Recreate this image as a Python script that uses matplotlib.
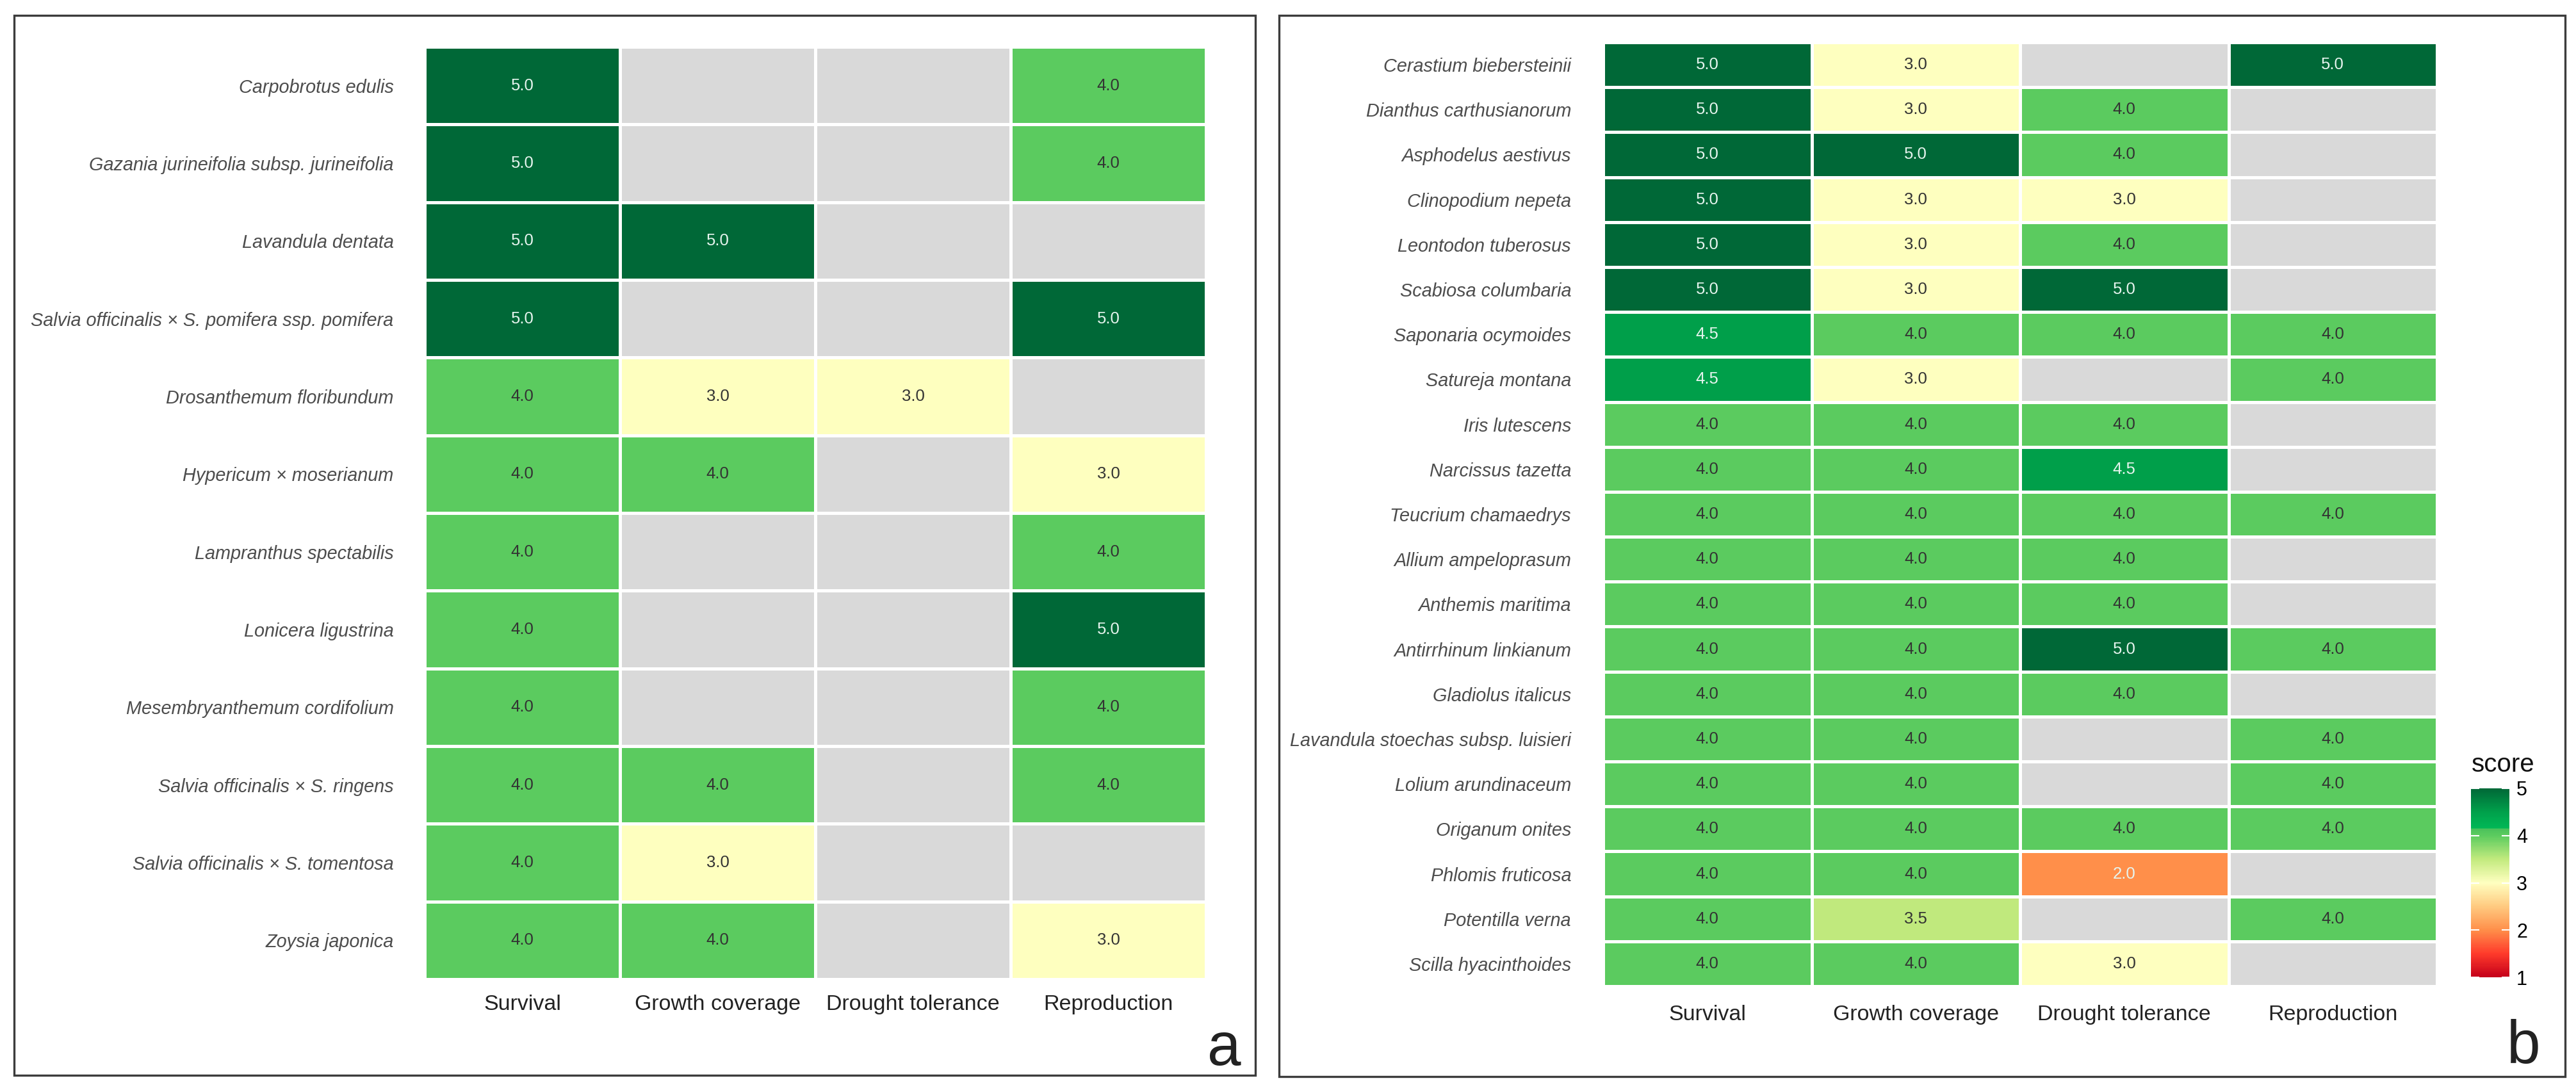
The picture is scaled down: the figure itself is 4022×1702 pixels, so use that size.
import numpy as np
import matplotlib
matplotlib.use("Agg")
import matplotlib.pyplot as plt
from matplotlib.colors import LinearSegmentedColormap, Normalize
from matplotlib.patches import Rectangle

plt.rcParams['font.family'] = ['Liberation Sans', 'DejaVu Sans']

# -------------------------------
# data
# -------------------------------
traits = ["Survival", "Growth coverage", "Drought tolerance", "Reproduction"]

species_a = [
    "Carpobrotus edulis",
    "Gazania jurineifolia subsp. jurineifolia",
    "Lavandula dentata",
    "Salvia officinalis × S. pomifera ssp. pomifera",
    "Drosanthemum floribundum",
    "Hypericum × moserianum",
    "Lampranthus spectabilis",
    "Lonicera ligustrina",
    "Mesembryanthemum cordifolium",
    "Salvia officinalis × S. ringens",
    "Salvia officinalis × S. tomentosa",
    "Zoysia japonica",
]
survival_a = [5, 5, 5, 5, 4, 4, 4, 4, 4, 4, 4, 4]
growth_a = [None, None, 5, None, 3, 4, None, None, None, 4, 3, 4]
drought_a = [None, None, None, None, 3, None, None, None, None, None, None, None]
repro_a = [4, 4, None, 5, None, 3, 4, 5, 4, 4, None, 3]

species_b = [
    "Cerastium biebersteinii",
    "Dianthus carthusianorum",
    "Asphodelus aestivus",
    "Clinopodium nepeta",
    "Leontodon tuberosus",
    "Scabiosa columbaria",
    "Saponaria ocymoides",
    "Satureja montana",
    "Iris lutescens",
    "Narcissus tazetta",
    "Teucrium chamaedrys",
    "Allium ampeloprasum",
    "Anthemis maritima",
    "Antirrhinum linkianum",
    "Gladiolus italicus",
    "Lavandula stoechas subsp. luisieri",
    "Lolium arundinaceum",
    "Origanum onites",
    "Phlomis fruticosa",
    "Potentilla verna",
    "Scilla hyacinthoides",
]
survival_b = [5, 5, 5, 5, 5, 5, 4.5, 4.5, 4, 4, 4, 4, 4, 4, 4, 4, 4, 4, 4, 4, 4]
growth_b = [3, 3, 5, 3, 3, 3, 4, 3, 4, 4, 4, 4, 4, 4, 4, 4, 4, 4, 4, 3.5, 4]
drought_b = [None, 4, 4, 3, 4, 5, 4, None, 4, 4.5, 4, 4, 4, 5, 4, None, None, 4, 2, None, 3]
repro_b = [5, None, None, None, None, None, 4, 4, None, None, 4, None, None, 4, None, 4, 4, 4, None, 4, None]

score_ticks = [1, 2, 3, 4, 5]

# -------------------------------
# colours
# -------------------------------
cmap = LinearSegmentedColormap.from_list("score", [
    (0.0, "#c4001a"),
    (0.125, "#ff3b2b"),
    (0.25, "#ff8f4a"),
    (0.375, "#ffca80"),
    (0.5, "#ffffc0"),
    (0.625, "#c2ea7e"),
    (0.75, "#5ccc5f"),
    (0.785, "#4cc25c"),
    (0.79, "#00b856"),
    (0.875, "#00a14b"),
    (1.0, "#006837"),
])
cmap.set_bad("#d9d9d9")
norm = Normalize(vmin=1, vmax=5)

W, H = 4022, 1702
fig = plt.figure(figsize=(W / 100, H / 100), dpi=100)


def to_matrix(*cols):
    m = np.array([[np.nan if v is None else v for v in c] for c in cols], dtype=float).T
    return np.ma.masked_invalid(m)


def heatmap(box, species, mat, ypad, xpad):
    x0, y0, x1, y1 = box
    ax = fig.add_axes([x0 / W, (H - y1) / H, (x1 - x0) / W, (y1 - y0) / H])
    n = len(species)
    mesh = ax.pcolormesh(np.arange(5), np.arange(n + 1), mat, cmap=cmap, norm=norm,
                         edgecolors="white", linewidth=2.2)
    ax.set_xlim(0, 4)
    ax.set_ylim(n, 0)
    for i in range(n):
        for j in range(4):
            v = mat[i, j]
            if np.ma.is_masked(v):
                continue
            tc = "#e6f4ee" if (v >= 4.5 or v <= 2) else "#333333"
            ax.text(j + 0.5, i + 0.5, f"{v:.1f}", ha="center", va="center",
                    fontsize=18.5, color=tc)
    ax.set_xticks(np.arange(4) + 0.5, traits)
    ax.set_yticks(np.arange(n) + 0.5, species)
    ax.tick_params(axis="x", length=0, pad=xpad, labelsize=24.5, labelcolor="#222222")
    ax.tick_params(axis="y", length=0, pad=ypad, labelsize=20.8, labelcolor="#4d4d4d")
    for lab in ax.get_yticklabels():
        lab.set_fontstyle("italic")
    for s in ax.spines.values():
        s.set_visible(False)
    return mesh


heatmap((663, 73, 1883, 1529), species_a,
        to_matrix(survival_a, growth_a, drought_a, repro_a), 35, 17)
mesh_b = heatmap((2503, 66, 3805, 1540), species_b,
                 to_matrix(survival_b, growth_b, drought_b, repro_b), 36, 21)

# panel frames
for (x0, y0, x1, y1) in [(22, 24, 1960, 1679), (1997, 24, 4005, 1681)]:
    fig.patches.append(Rectangle((x0 / W, (H - y1) / H), (x1 - x0) / W, (y1 - y0) / H,
                                 transform=fig.transFigure, fill=False,
                                 edgecolor="#3c3c3c", linewidth=2.4))

fig.text(1911 / W, (H - 1663) / H, "a", ha="center", va="baseline",
         fontsize=68, color="#222222")
fig.text(3940 / W, (H - 1660) / H, "b", ha="center", va="baseline",
         fontsize=68, color="#222222")

# colour bar
cax = fig.add_axes([3858 / W, (H - 1526) / H, 60 / W, 295 / H])
cb = fig.colorbar(mesh_b, cax=cax, ticks=score_ticks)
cb.outline.set_visible(False)
cax.tick_params(direction="in", length=9, width=1.5, color="white",
                left=True, right=True, labelsize=22, pad=8)
fig.text(3859 / W, (H - 1205) / H, "score", ha="left", va="baseline",
         fontsize=29, color="#111111")

plt.savefig("out.png", dpi=100, facecolor="white")
